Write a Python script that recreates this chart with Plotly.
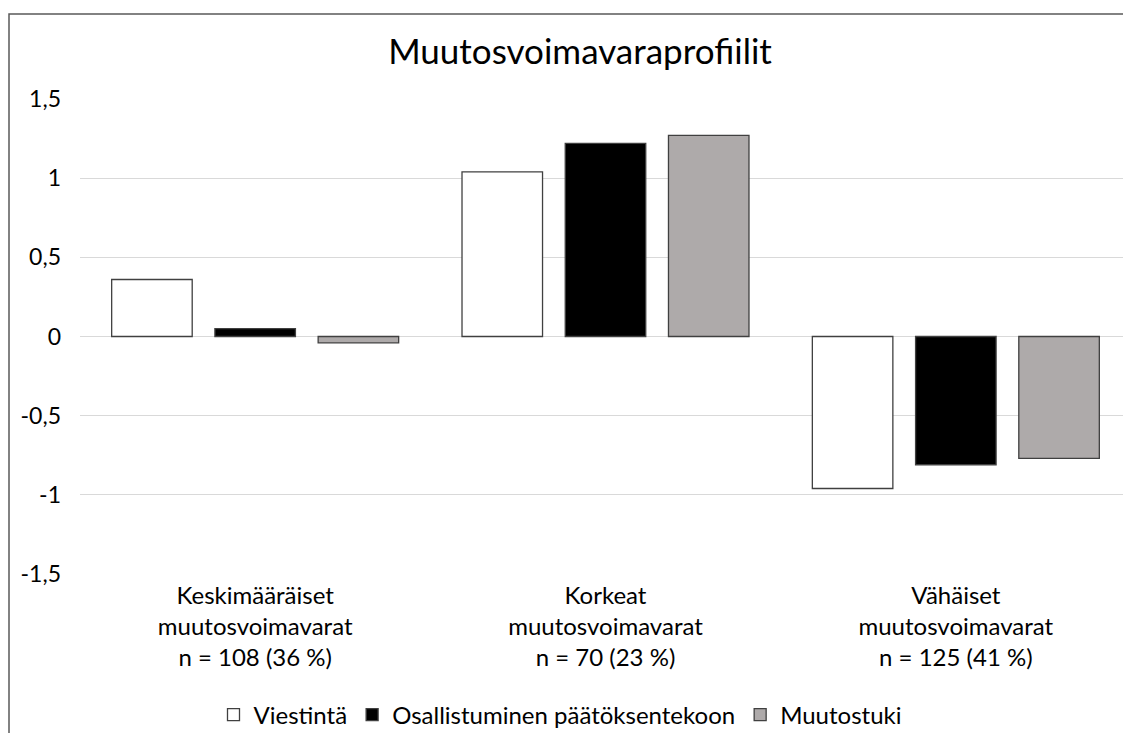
import plotly.graph_objects as go

categories = [
    "Keskimääräiset<br>muutosvoimavarat<br>n = 108 (36 %)",
    "Korkeat<br>muutosvoimavarat<br>n = 70 (23 %)",
    "Vähäiset<br>muutosvoimavarat<br>n = 125 (41 %)",
]
series_names = ["Viestintä", "Osallistuminen päätöksentekoon", "Muutostuki"]
viestinta = [0.36, 1.04, -0.96]
osallistuminen = [0.05, 1.22, -0.81]
muutostuki = [-0.04, 1.27, -0.77]
y_tickvals = [-1.5, -1, -0.5, 0, 0.5, 1, 1.5]
y_ticktext = ["-1,5", "-1", "-0,5", "0", "0,5", "1", "1,5"]

colors = ["#FFFFFF", "#000000", "#AEAAAA"]
values = [viestinta, osallistuminen, muutostuki]

FONT = "Lato"
fig = go.Figure()
for name, vals, col in zip(series_names, values, colors):
    fig.add_trace(go.Bar(
        x=categories, y=vals, name=name,
        marker=dict(color=col, line=dict(color="#404040", width=1.3)),
    ))

# page has an 8px body margin; work in target-page pixels and subtract it
O = 8
W, H = 1131 - O, 733 - O
L, T = 80 - O, 99 - O
plot_right, plot_bottom = 1131 - O, 574 - O
pw, ph = plot_right - L, plot_bottom - T
R, B = W - plot_right, H - plot_bottom

def px_x(x):
    return (x - O - L) / pw

def px_y(y):
    return (plot_bottom - (y - O)) / ph

fig.update_layout(
    width=W, height=H,
    margin=dict(l=L, r=R, t=T, b=B, autoexpand=False),
    paper_bgcolor="white", plot_bgcolor="white",
    font=dict(family=FONT, color="#000000", size=24),
    title=dict(text="Muutosvoimavaraprofiilit", x=(580 - O) / W,
               xanchor="center", y=1 - (52 - O) / H, yanchor="middle",
               font=dict(size=35, family=FONT, color="#000000")),
    barmode="group", bargap=0.116, bargroupgap=0.22,
    showlegend=True,
    legend=dict(orientation="h", x=px_x(560), xanchor="center",
                y=px_y(715), yanchor="middle",
                font=dict(size=24, family=FONT, color="#000000"),
                itemwidth=30, traceorder="normal", bgcolor="rgba(0,0,0,0)"),
    xaxis=dict(showgrid=False, showline=False, zeroline=False, ticks="",
               tickfont=dict(size=24, family=FONT, color="#000000"),
               ticklabelstandoff=5),
    yaxis=dict(range=[-1.5, 1.5], tickvals=y_tickvals, ticktext=y_ticktext,
               showgrid=True, gridcolor="#D9D9D9", gridwidth=1.2,
               zeroline=False, showline=False, ticks="",
               tickfont=dict(size=23, family=FONT, color="#000000"),
               ticklabelstandoff=18),
    shapes=[dict(type="rect", xref="paper", yref="paper",
                 x0=(1.0 - L) / pw, x1=px_x(1160), y0=px_y(760), y1=px_y(14),
                 line=dict(color="#595959", width=1.5), fillcolor="rgba(0,0,0,0)",
                 layer="below")],
)

fig.write_html("out.html")
